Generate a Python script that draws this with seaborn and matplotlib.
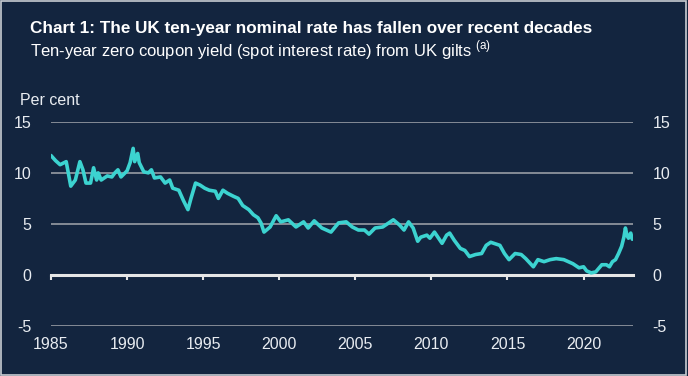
import numpy as np
import pandas as pd
import matplotlib.pyplot as plt
import matplotlib.patches as patches
import seaborn as sns

# Ten-year zero coupon yield (decimal year, per cent)
years = [
    1985.0, 1985.3, 1985.6, 1986.0, 1986.3, 1986.6, 1986.9, 1987.1, 1987.3, 1987.6,
    1987.8, 1988.0, 1988.1, 1988.3, 1988.7, 1989.0, 1989.2, 1989.4, 1989.6, 1990.0,
    1990.2, 1990.4, 1990.5, 1990.7, 1990.8, 1991.1, 1991.4, 1991.6, 1991.8, 1992.2,
    1992.5, 1992.8, 1993.0, 1993.4, 1993.7, 1994.0, 1994.2, 1994.5, 1994.8, 1995.1,
    1995.4, 1995.8, 1996.0, 1996.3, 1996.6, 1997.0, 1997.3, 1997.6, 1998.0, 1998.3,
    1998.6, 1998.8, 1999.0, 1999.4, 1999.8, 2000.1, 2000.6, 2001.1, 2001.6, 2001.9,
    2002.3, 2002.8, 2003.1, 2003.4, 2003.9, 2004.4, 2004.8, 2005.2, 2005.6, 2005.9,
    2006.3, 2006.8, 2007.5, 2007.9, 2008.2, 2008.5, 2008.8, 2009.1, 2009.3, 2009.7,
    2009.9, 2010.2, 2010.7, 2011.0, 2011.2, 2011.5, 2011.9, 2012.2, 2012.5, 2012.9,
    2013.3, 2013.6, 2013.9, 2014.5, 2014.8, 2015.1, 2015.5, 2015.9, 2016.2, 2016.7,
    2017.0, 2017.4, 2017.8, 2018.2, 2018.7, 2019.0, 2019.3, 2019.7, 2020.0, 2020.2,
    2020.5, 2020.8, 2021.2, 2021.5, 2021.7, 2021.9, 2022.1, 2022.3, 2022.5, 2022.65,
    2022.75, 2022.85, 2022.95, 2023.1, 2023.2,
]
yield_pct = [
    11.7, 11.2, 10.8, 11.1, 8.7, 9.3, 11.1, 10.3, 9.0, 9.0,
    10.5, 9.3, 10.0, 9.3, 9.7, 9.6, 10.0, 10.3, 9.6, 10.2,
    11.0, 12.4, 11.1, 11.9, 11.0, 10.1, 10.0, 10.3, 9.5, 9.6,
    9.0, 9.3, 8.5, 8.3, 7.3, 6.4, 7.5, 9.0, 8.8, 8.5,
    8.3, 8.2, 7.5, 8.3, 8.0, 7.7, 7.5, 6.8, 6.4, 5.9,
    5.6, 5.1, 4.2, 4.7, 5.8, 5.2, 5.4, 4.7, 5.2, 4.6,
    5.3, 4.6, 4.4, 4.2, 5.1, 5.2, 4.7, 4.4, 4.4, 4.0,
    4.6, 4.7, 5.4, 4.9, 4.4, 5.2, 4.6, 3.3, 3.7, 3.9,
    3.6, 4.2, 3.1, 3.9, 4.1, 3.4, 2.6, 2.4, 1.8, 2.0,
    2.1, 2.9, 3.2, 2.9, 2.1, 1.5, 2.1, 2.0, 1.6, 0.8,
    1.5, 1.3, 1.5, 1.6, 1.5, 1.3, 1.1, 0.7, 0.8, 0.4,
    0.2, 0.3, 1.0, 1.0, 0.8, 1.3, 1.5, 2.1, 2.8, 3.7,
    4.6, 3.9, 3.6, 4.1, 3.5,
]
year_ticks = [1985, 1990, 1995, 2000, 2005, 2010, 2015, 2020]
value_ticks = [-5, 0, 5, 10, 15]

title = "Chart 1: The UK ten-year nominal rate has fallen over recent decades"
subtitle = "Ten-year zero coupon yield (spot interest rate) from UK gilts $^{\\mathregular{(a)}}$"

bg = "#13253f"
line_col = "#3cd3d0"
text_col = "#e8ecf1"
grid_col = "#8d939d"

sns.set_style("dark")
plt.rcParams['font.family'] = ['Liberation Sans', 'DejaVu Sans']
plt.rcParams['axes.unicode_minus'] = False

df = pd.DataFrame({"year": years, "rate": yield_pct})

fig = plt.figure(figsize=(6.88, 3.76), dpi=100, facecolor=bg)
fig.patches.append(patches.Rectangle((0.002, 0.003), 0.995, 0.994, transform=fig.transFigure,
                                     fill=False, edgecolor="#c8ccd2", linewidth=1.2))
ax = fig.add_axes([0.0741, 0.133, 0.846, 0.543])
ax.set_facecolor(bg)

# grid lines
for v in value_ticks:
    if v != 0:
        ax.axhline(v, color=grid_col, linewidth=1.3, zorder=1)

sns.lineplot(data=df, x="year", y="rate", ax=ax, color=line_col, linewidth=2.6, zorder=3)

ax.set_xlim(1985, 2023.25)
ax.set_ylim(-5, 15)
ax.set_xticks(year_ticks)
ax.set_yticks(value_ticks)
ax.set_xlabel("")
ax.set_ylabel("")
for s in ax.spines.values():
    s.set_visible(False)
ax.grid(False)
ax.tick_params(axis="x", length=0, pad=8, labelsize=11.5, labelcolor=text_col)
ax.tick_params(axis="y", length=0, pad=14, labelsize=11.5, labelcolor=text_col,
               labelright=True)

# zero line with year tick marks
zero_ax = ax.secondary_xaxis(0.25)
zero_ax.set_xticks(year_ticks)
zero_ax.tick_params(axis="x", direction="out", length=3.5, width=1.5, color="#e6e6e6",
                    labelbottom=False)
zero_ax.spines["bottom"].set_color("#e6e6e6")
zero_ax.spines["bottom"].set_linewidth(2.2)
zero_ax.set_zorder(2)

fig.text(0.044, 0.925, title, color="white", fontsize=12.3, fontweight="bold", va="center")
fig.text(0.044, 0.866, subtitle, color="white", fontsize=12, va="center")
fig.text(0.029, 0.733, "Per cent", color=text_col, fontsize=11.5, va="center")

fig.savefig("out.png", dpi=100, facecolor=bg)
